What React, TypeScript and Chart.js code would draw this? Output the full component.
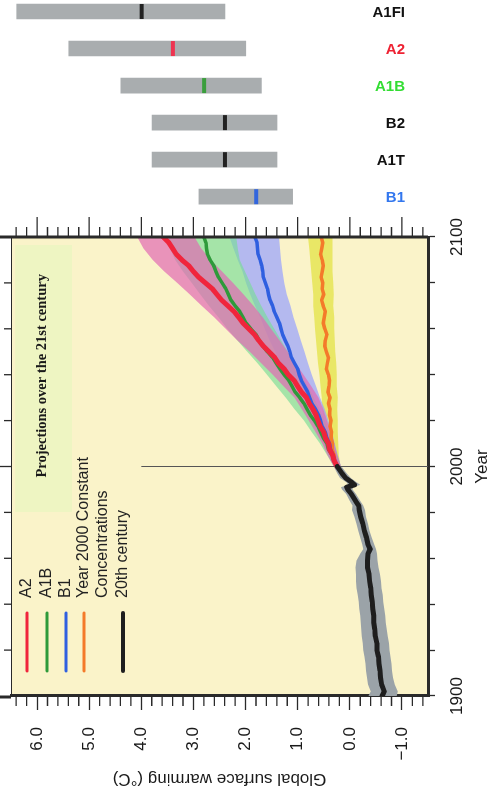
import React, { useEffect, useRef } from 'react';
import { Chart, registerables } from 'chart.js';

Chart.register(...registerables);

// ---------------- data ----------------
const scenarios = ['A1FI', 'A2', 'A1B', 'B2', 'A1T', 'B1'];
const rangeLow = [2.4, 2.0, 1.7, 1.4, 1.4, 1.1];
const rangeHigh = [6.4, 5.4, 4.4, 3.8, 3.8, 2.9];
const bestEstimate = [4.0, 3.4, 2.8, 2.4, 2.4, 1.8];
const markerColors = ['#222222', '#ee3350', '#3a9e3c', '#222222', '#222222', '#3366dd'];
const labelColors = ['#111111', '#ee2233', '#33dd33', '#111111', '#111111', '#3377ee'];

const histYears = [1900, 1902, 1905, 1908, 1911, 1914, 1917, 1920, 1923, 1926, 1929, 1932, 1935, 1938, 1941, 1944, 1947, 1950, 1953, 1956, 1959, 1962, 1964, 1966, 1969, 1972, 1975, 1978, 1981, 1983, 1985, 1988, 1990, 1991, 1992, 1993, 1995, 1997, 2000];
const histMean = [-0.62, -0.66, -0.61, -0.59, -0.58, -0.56, -0.55, -0.52, -0.52, -0.49, -0.48, -0.46, -0.46, -0.44, -0.43, -0.41, -0.40, -0.38, -0.37, -0.34, -0.34, -0.35, -0.39, -0.35, -0.32, -0.28, -0.25, -0.21, -0.18, -0.17, -0.11, -0.03, 0.04, 0.06, -0.09, -0.04, 0.08, 0.15, 0.24];
const histUpper = [-0.36, -0.40, -0.35, -0.33, -0.31, -0.30, -0.28, -0.26, -0.25, -0.23, -0.22, -0.21, -0.20, -0.18, -0.17, -0.15, -0.13, -0.12, -0.12, -0.11, -0.13, -0.20, -0.26, -0.24, -0.20, -0.16, -0.13, -0.09, -0.04, -0.05, 0.00, 0.07, 0.15, 0.17, 0.03, 0.06, 0.19, 0.24, 0.31];
const histLower = [-0.90, -0.92, -0.86, -0.83, -0.81, -0.80, -0.78, -0.76, -0.75, -0.73, -0.71, -0.69, -0.68, -0.66, -0.64, -0.63, -0.61, -0.60, -0.58, -0.55, -0.53, -0.52, -0.50, -0.47, -0.42, -0.38, -0.35, -0.31, -0.29, -0.26, -0.20, -0.12, -0.05, -0.06, -0.20, -0.14, -0.02, 0.06, 0.16];

// projection means (every 2.5 years)
const projLineYears = [2000, 2002.5, 2005, 2007.5, 2010, 2012.5, 2015, 2017.5, 2020, 2022.5, 2025, 2027.5, 2030, 2032.5, 2035, 2037.5, 2040, 2042.5, 2045, 2047.5, 2050, 2052.5, 2055, 2057.5, 2060, 2062.5, 2065, 2067.5, 2070, 2072.5, 2075, 2077.5, 2080, 2082.5, 2085, 2087.5, 2090, 2092.5, 2095, 2097.5, 2100];
const a2Mean = [0.24, 0.30, 0.33, 0.39, 0.41, 0.47, 0.50, 0.57, 0.61, 0.65, 0.71, 0.78, 0.83, 0.93, 1.00, 1.07, 1.18, 1.26, 1.37, 1.44, 1.55, 1.66, 1.75, 1.83, 1.94, 2.05, 2.13, 2.22, 2.34, 2.46, 2.55, 2.64, 2.77, 2.90, 3.00, 3.09, 3.22, 3.33, 3.40, 3.47, 3.58];
const a1bMean = [0.24, 0.31, 0.34, 0.41, 0.44, 0.51, 0.56, 0.61, 0.68, 0.76, 0.82, 0.88, 0.96, 1.05, 1.11, 1.17, 1.26, 1.34, 1.41, 1.48, 1.58, 1.67, 1.74, 1.80, 1.90, 1.99, 2.05, 2.11, 2.20, 2.28, 2.33, 2.38, 2.45, 2.52, 2.57, 2.61, 2.68, 2.73, 2.75, 2.76, 2.80];
const b1Mean = [0.24, 0.29, 0.32, 0.37, 0.39, 0.44, 0.47, 0.53, 0.56, 0.60, 0.66, 0.73, 0.77, 0.81, 0.87, 0.93, 0.97, 1.00, 1.06, 1.12, 1.15, 1.19, 1.24, 1.29, 1.32, 1.35, 1.40, 1.45, 1.48, 1.53, 1.56, 1.58, 1.62, 1.66, 1.67, 1.69, 1.72, 1.76, 1.77, 1.78, 1.82];
const constMean = [0.24, 0.29, 0.30, 0.34, 0.33, 0.36, 0.35, 0.38, 0.36, 0.39, 0.38, 0.41, 0.38, 0.42, 0.40, 0.39, 0.41, 0.45, 0.43, 0.41, 0.45, 0.48, 0.47, 0.44, 0.48, 0.51, 0.49, 0.47, 0.51, 0.54, 0.50, 0.53, 0.52, 0.55, 0.53, 0.51, 0.53, 0.56, 0.54, 0.52, 0.55];

// projection spread (every 5 years)
const projBandYears = [2000, 2005, 2010, 2015, 2020, 2025, 2030, 2035, 2040, 2045, 2050, 2055, 2060, 2065, 2070, 2075, 2080, 2085, 2090, 2095, 2100];
const a2Upper = [0.31, 0.43, 0.53, 0.66, 0.79, 0.92, 1.06, 1.27, 1.48, 1.70, 1.92, 2.16, 2.38, 2.60, 2.84, 3.07, 3.31, 3.56, 3.78, 3.96, 4.08];
const a2Lower = [0.17, 0.24, 0.30, 0.36, 0.44, 0.51, 0.60, 0.74, 0.89, 1.04, 1.19, 1.35, 1.51, 1.67, 1.85, 2.04, 2.24, 2.45, 2.67, 2.85, 2.98];
const a1bUpper = [0.31, 0.44, 0.57, 0.73, 0.88, 1.06, 1.23, 1.41, 1.59, 1.77, 1.97, 2.16, 2.35, 2.52, 2.70, 2.87, 3.03, 3.20, 3.35, 3.45, 3.55];
const a1bLower = [0.17, 0.24, 0.31, 0.39, 0.48, 0.58, 0.69, 0.81, 0.93, 1.05, 1.19, 1.32, 1.45, 1.58, 1.70, 1.81, 1.91, 2.01, 2.11, 2.15, 2.18];
const b1Upper = [0.31, 0.41, 0.50, 0.61, 0.72, 0.84, 0.97, 1.09, 1.21, 1.32, 1.43, 1.54, 1.63, 1.72, 1.82, 1.91, 1.99, 2.06, 2.15, 2.23, 2.31];
const b1Lower = [0.17, 0.23, 0.29, 0.34, 0.41, 0.48, 0.57, 0.65, 0.73, 0.80, 0.87, 0.94, 1.01, 1.08, 1.14, 1.21, 1.26, 1.29, 1.32, 1.34, 1.36];
const constUpper = [0.30, 0.39, 0.44, 0.48, 0.50, 0.53, 0.54, 0.56, 0.58, 0.61, 0.63, 0.65, 0.67, 0.68, 0.70, 0.70, 0.72, 0.74, 0.76, 0.78, 0.80];
const constLower = [0.18, 0.21, 0.22, 0.23, 0.23, 0.24, 0.23, 0.25, 0.25, 0.26, 0.28, 0.29, 0.30, 0.30, 0.32, 0.31, 0.32, 0.33, 0.33, 0.33, 0.33];

const valueMin = -1.5;
const valueMax = 6.5;
const yearMin = 1900;
const yearMax = 2100;
const yearTicks = [1900, 1920, 1940, 1960, 1980, 2000, 2020, 2040, 2060, 2080, 2100];
const yearLabels = [1900, 2000, 2100];
const valueTicks = [-1, 0, 1, 2, 3, 4, 5, 6];
const dividerYear = 2000;
const dividerRange = [-1.5, 4.0];
const boxYears = [1980.2, 2096.5];
const boxValues = [5.33, 6.42];
const boxText = 'Projections over the 21st century';
const boxTextAt = [2039.5, 5.9];

const legendItems = [
  { lines: ['A2'], color: '#f0253c', width: 3 },
  { lines: ['A1B'], color: '#2e9a3a', width: 3 },
  { lines: ['B1'], color: '#2f5fe0', width: 3 },
  { lines: ['Year 2000 Constant', 'Concentrations'], color: '#f47a2a', width: 3 },
  { lines: ['20th century'], color: '#1e1e1e', width: 4 },
];

// ---------------- styles ----------------
const SANS = '"Liberation Sans", Arial, Helvetica, sans-serif';
const SERIF = '"Liberation Serif", "Times New Roman", serif';
const plotBg = '#faf3c9';
const boxBg = '#eef5c2';
const barGray = '#a9adaf';
const axisColor = '#2a2a2a';

const pts = (xs: number[], ys: number[]) => xs.map((x, i) => ({ x, y: ys[i] }));

function band(xs: number[], up: number[], lo: number[], color: string, order: number) {
  return [
    { data: pts(xs, up), fill: '+1', backgroundColor: color, borderWidth: 0, pointRadius: 0, order, tension: 0 },
    { data: pts(xs, lo), fill: false, borderWidth: 0, pointRadius: 0, order, tension: 0 },
  ];
}
function line(xs: number[], ys: number[], color: string, width: number, order: number) {
  return { data: pts(xs, ys), fill: false, borderColor: color, borderWidth: width, pointRadius: 0, order, tension: 0, borderJoinStyle: 'round', borderCapStyle: 'round' };
}

const mainPlugin = {
  id: 'mainDecor',
  beforeDraw(chart: any) {
    const { ctx, chartArea: a, scales } = chart;
    const x = scales.x, y = scales.y;
    ctx.save();
    ctx.fillStyle = plotBg;
    ctx.fillRect(a.left, a.top, a.right - a.left, a.bottom - a.top);
    const bx1 = x.getPixelForValue(boxYears[0]);
    const bx2 = x.getPixelForValue(boxYears[1]);
    const by1 = y.getPixelForValue(boxValues[1]);
    const by2 = y.getPixelForValue(boxValues[0]);
    ctx.fillStyle = boxBg;
    ctx.fillRect(bx1, by1, bx2 - bx1, by2 - by1);
    ctx.restore();
  },
  afterDraw(chart: any) {
    const { ctx, chartArea: a, scales } = chart;
    const x = scales.x, y = scales.y;
    ctx.save();
    ctx.strokeStyle = axisColor;
    // frame
    ctx.lineWidth = 1;
    ctx.beginPath();
    ctx.moveTo(a.left, a.top + 0.5);
    ctx.lineTo(a.right, a.top + 0.5);
    ctx.stroke();
    ctx.lineWidth = 3;
    ctx.beginPath();
    ctx.moveTo(a.right, 0);
    ctx.lineTo(a.right, a.bottom);
    ctx.moveTo(a.left - 1, 0);
    ctx.lineTo(a.left - 1, a.top);
    ctx.stroke();
    // value ticks: minor on left, major+minor on right
    ctx.lineWidth = 1.3;
    ctx.beginPath();
    for (let k = -7; k <= 32; k++) {
      const v = k / 5;
      const py = y.getPixelForValue(v);
      const major = k % 5 === 0;
      if (!major) {
        ctx.moveTo(a.left - 10, py);
        ctx.lineTo(a.left, py);
      }
      ctx.moveTo(a.right, py);
      ctx.lineTo(a.right + (major ? 20 : 10), py);
    }
    // top year ticks
    yearTicks.forEach((yr) => {
      if (yr === yearMin || yr === yearMax) return;
      const px = x.getPixelForValue(yr);
      ctx.moveTo(px, yr === dividerYear ? 0 : a.top - 7);
      ctx.lineTo(px, a.top);
    });
    ctx.stroke();
    // projections box label
    ctx.fillStyle = '#1a1a1a';
    ctx.font = 'bold 14.5px ' + SERIF;
    ctx.textAlign = 'center';
    ctx.textBaseline = 'middle';
    ctx.fillText(boxText, x.getPixelForValue(boxTextAt[0]), y.getPixelForValue(boxTextAt[1]));
    // legend
    const rows = [16, 36, 55, 73, 112];
    ctx.textAlign = 'left';
    ctx.font = '16px ' + SANS;
    legendItems.forEach((it, i) => {
      const py = a.top + rows[i];
      ctx.strokeStyle = it.color;
      ctx.lineWidth = it.width;
      ctx.lineCap = 'round';
      ctx.beginPath();
      ctx.moveTo(a.left + 25, py);
      ctx.lineTo(a.left + 83, py);
      ctx.stroke();
      ctx.fillStyle = '#222';
      it.lines.forEach((t, j) => ctx.fillText(t, a.left + 98, py + j * 19));
    });
    ctx.restore();
  },
};

const barPlugin = {
  id: 'barLabels',
  afterDraw(chart: any) {
    const { ctx, chartArea: a, scales } = chart;
    ctx.save();
    ctx.font = 'bold 15px ' + SANS;
    ctx.textAlign = 'right';
    ctx.textBaseline = 'middle';
    scenarios.forEach((s, i) => {
      ctx.fillStyle = labelColors[i];
      ctx.fillText(s, a.right - 23, scales.y.getPixelForValue(i) + 1);
    });
    ctx.restore();
  },
};

const fmtValue = (v: number) => (v < 0 ? '\u2212' + Math.abs(v).toFixed(1) : v.toFixed(1));

const noPad = (s: any) => {
  s.paddingTop = 0;
  s.paddingBottom = 0;
  s.paddingLeft = 0;
  s.paddingRight = 0;
};

export default function App() {
  const barRef = useRef<HTMLCanvasElement>(null);
  const mainRef = useRef<HTMLCanvasElement>(null);

  useEffect(() => {
    const barChart = new Chart(barRef.current as HTMLCanvasElement, {
      type: 'bar',
      data: {
        labels: scenarios,
        datasets: [
          {
            type: 'scatter',
            data: scenarios.map((s, i) => ({ x: bestEstimate[i], y: s })),
            pointStyle: 'line',
            rotation: 90,
            pointRadius: 7.5,
            pointBorderWidth: 4,
            borderColor: markerColors,
            pointBorderColor: markerColors,
            order: 0,
            clip: false,
          } as any,
          {
            type: 'bar',
            data: scenarios.map((s, i) => [rangeLow[i], rangeHigh[i]]),
            backgroundColor: barGray,
            barThickness: 15,
            order: 1,
            clip: false,
          } as any,
        ],
      },
      options: {
        indexAxis: 'y',
        responsive: false,
        animation: false,
        layout: { padding: { left: 11, right: 63, top: 11, bottom: 18.3 } },
        scales: {
          x: { type: 'linear', min: valueMin, max: valueMax, reverse: true, display: false },
          y: { type: 'category', offset: false, display: false },
        },
        plugins: { legend: { display: false }, tooltip: { enabled: false } },
      } as any,
      plugins: [barPlugin],
    });

    const datasets: any[] = [
      ...band(histYears, histUpper, histLower, 'rgb(155,163,168)', 30),
      ...band(projBandYears, constUpper, constLower, 'rgba(225,225,60,0.7)', 29),
      ...band(projBandYears, b1Upper, b1Lower, 'rgba(150,160,255,0.7)', 28),
      ...band(projBandYears, a1bUpper, a1bLower, 'rgba(120,220,150,0.65)', 27),
      ...band(projBandYears, a2Upper, a2Lower, 'rgba(225,105,180,0.7)', 26),
      { data: [{ x: dividerYear, y: dividerRange[0] }, { x: dividerYear, y: dividerRange[1] }], borderColor: '#555', borderWidth: 1, pointRadius: 0, fill: false, order: 15 },
      line(projLineYears, constMean, '#f47a2a', 3.5, 5),
      line(projLineYears, b1Mean, '#2f5fe0', 3.5, 4),
      line(projLineYears, a1bMean, '#2e9a3a', 3.5, 3),
      line(projLineYears, a2Mean, '#f0253c', 5, 2),
      line(histYears, histMean, '#1e1e1e', 5, 1),
    ];

    const tickFont = { family: SANS, size: 17 };
    const mainChart = new Chart(mainRef.current as HTMLCanvasElement, {
      type: 'line',
      data: { datasets },
      options: {
        responsive: false,
        animation: false,
        layout: { padding: { top: 11, right: 25, left: 0, bottom: 0 } },
        plugins: { legend: { display: false }, tooltip: { enabled: false }, filler: { propagate: false } },
        scales: {
          x: {
            type: 'linear',
            min: yearMin,
            max: yearMax,
            position: 'bottom',
            afterBuildTicks: (s: any) => { s.ticks = yearTicks.map((v) => ({ value: v })); },
            afterFit: (s: any) => { s.height = 63; noPad(s); },
            ticks: {
              autoSkip: false,
              maxRotation: 0,
              padding: 12,
              color: '#1a1a1a',
              font: tickFont,
              callback: (v: any) => (yearLabels.includes(Number(v)) ? String(v) : ''),
            },
            grid: { drawOnChartArea: false, drawTicks: true, tickLength: 7, tickColor: axisColor, tickWidth: 1.3 },
            border: { display: true, color: axisColor, width: 3 },
            title: { display: true, text: 'Year', color: '#1a1a1a', font: { family: SANS, size: 17, lineHeight: 1 }, padding: { top: 0, bottom: 0 } },
          },
          y: {
            type: 'linear',
            min: valueMin,
            max: valueMax,
            position: 'left',
            afterBuildTicks: (s: any) => { s.ticks = valueTicks.map((v) => ({ value: v })); },
            afterFit: (s: any) => { s.width = 91; noPad(s); },
            ticks: { padding: 17, color: '#1a1a1a', font: tickFont, callback: (v: any) => fmtValue(Number(v)) },
            grid: { drawOnChartArea: false, drawTicks: true, tickLength: 14, tickColor: axisColor, tickWidth: 1.3 },
            border: { display: true, color: axisColor, width: 3 },
            title: { display: true, text: 'Global surface warming (°C)', color: '#1a1a1a', font: { family: SANS, size: 17, lineHeight: 1 }, padding: { top: 0, bottom: 0 } },
          },
        },
      } as any,
      plugins: [mainPlugin],
    });

    return () => {
      barChart.destroy();
      mainChart.destroy();
    };
  }, []);

  return (
    <div style={{ position: 'absolute', left: 0, top: 0, width: 491, height: 787, overflow: 'hidden', background: '#ffffff' }}>
      <canvas ref={barRef} width={491} height={215} style={{ position: 'absolute', left: 0, top: 0, width: 491, height: 215 }} />
      <div style={{ position: 'absolute', left: -42, top: 254, width: 575, height: 491, transform: 'rotate(-90deg)', transformOrigin: '50% 50%' }}>
        <canvas ref={mainRef} width={575} height={491} style={{ display: 'block', width: 575, height: 491 }} />
      </div>
    </div>
  );
}
